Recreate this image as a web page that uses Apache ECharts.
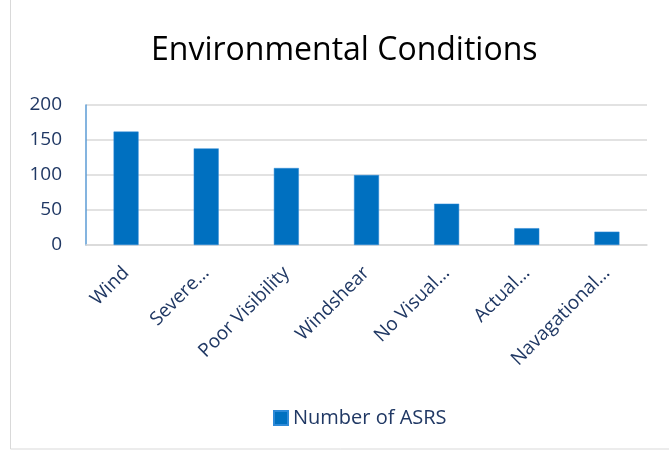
<!DOCTYPE html>
<html>
<head>
<meta charset="utf-8">
<script src="https://cdn.jsdelivr.net/npm/echarts@6/dist/echarts.min.js"></script>
<style>
  html, body { margin: 0; padding: 0; background: #fff; }
  #chart { width: 669px; height: 451px; }
</style>
</head>
<body>
<div id="chart"></div>
<script>
// categories as shown (Excel truncated the long ones)
const categories = ['Wind', 'Severe…', 'Poor Visibility', 'Windshear', 'No Visual…', 'Actual…', 'Navagational…']
const asrsCounts = [162, 138, 110, 100, 59, 24, 19]
const yTicks = [0, 50, 100, 150, 200]

const labelColor = '#203864'
const chart = echarts.init(document.getElementById('chart'))

chart.setOption({
  animation: false,
  title: {
    text: 'Environmental Conditions',
    left: 146,
    top: 30,
    textStyle: { fontFamily: 'Open Sans', fontSize: 32, fontWeight: 'normal', color: '#000' },
  },
  legend: {
    data: ['Number of ASRS'],
    bottom: 18,
    left: 268,
    icon: 'rect',
    itemWidth: 14,
    itemHeight: 14,
    itemGap: 5,
    textStyle: { fontFamily: 'Open Sans', fontSize: 20, color: labelColor },
  },
  graphic: [{
    type: 'rect',
    shape: { x: 10.5, y: -1, width: 670, height: 450 },
    style: { fill: 'none', stroke: '#d9d9d9', lineWidth: 1 },
  }],
  grid: { left: 86, right: 22, top: 105, bottom: 206, containLabel: false },
  xAxis: {
    type: 'category',
    data: categories,
    axisLine: { lineStyle: { color: '#d9d9d9', width: 1.5 } },
    axisTick: { show: false },
    axisLabel: {
      rotate: 45,
      interval: 0,
      margin: 25,
      fontFamily: 'Open Sans',
      fontSize: 19,
      color: labelColor,
    },
  },
  yAxis: {
    type: 'value',
    min: 0,
    max: 200,
    interval: 50,
    axisLine: { show: true, lineStyle: { color: '#5b9bd5', width: 1.5 } },
    axisTick: { show: false },
    splitLine: { lineStyle: { color: '#d9d9d9', width: 1.5 } },
    axisLabel: {
      margin: 24,
      fontFamily: 'Open Sans',
      fontSize: 19,
      color: labelColor,
      formatter: v => (yTicks.includes(v) ? String(v) : ''),
    },
  },
  series: [{
    name: 'Number of ASRS',
    type: 'bar',
    data: asrsCounts,
    barWidth: 25,
    itemStyle: { color: '#0070c0', borderColor: '#2e8ad8', borderWidth: 0.5 },
  }],
})
</script>
</body>
</html>
